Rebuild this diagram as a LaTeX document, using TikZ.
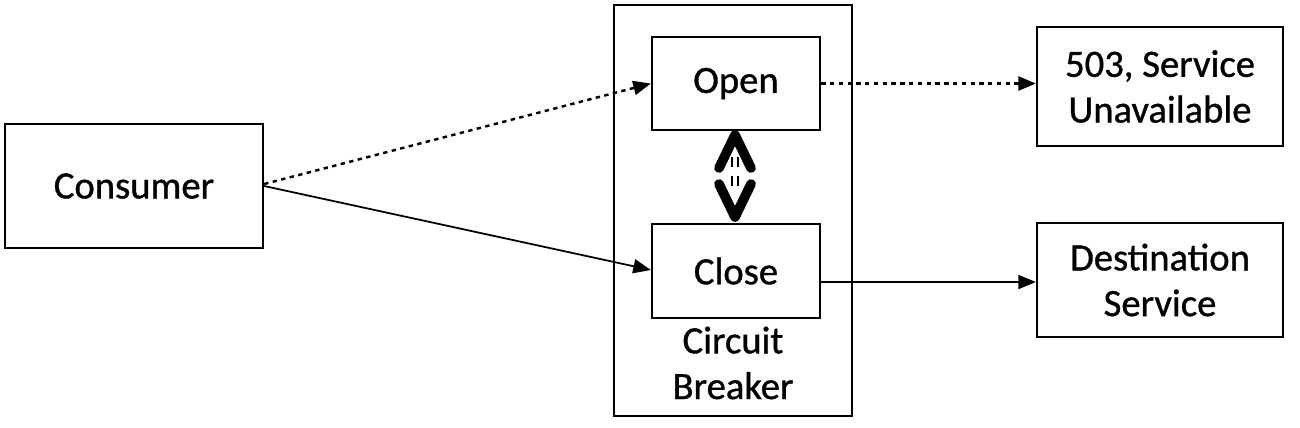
\documentclass[tikz,border=0pt]{standalone}
\usepackage{fontspec}
\setmainfont{Carlito}[RawFeature={embolden=0.9}]
\usetikzlibrary{arrows.meta}
\begin{document}
\begin{tikzpicture}[x=0.02cm,y=-0.02cm,
  box/.style={draw,line width=1.3pt,inner sep=0pt,font=\fontsize{22}{26}\selectfont,align=center},
  conn/.style={line width=1pt,-{Triangle[length=10pt,width=8pt]}},
  dots/.style={conn,line width=1.4pt,dash pattern=on 2.5pt off 2.5pt}]
\useasboundingbox (0,0) rectangle (1300,427);
\node[box,minimum width=258*0.02cm,minimum height=124*0.02cm] (cons) at (134,186) {Consumer};
\node[draw,line width=1.3pt,minimum width=238*0.02cm,minimum height=411*0.02cm] (cb) at (733,210.5) {};
\node[box,minimum width=168*0.02cm,minimum height=93*0.02cm] (open) at (736,83.5) {Open};
\node[box,minimum width=168*0.02cm,minimum height=94*0.02cm] (close) at (736,271) {Close};
\node[font=\fontsize{22}{26}\selectfont,align=center] (cbl) at (733,363) {Circuit\\Breaker};
\node[box,minimum width=246*0.02cm,minimum height=119*0.02cm] (svc) at (1160,86.5) {503, Service\\Unavailable};
\node[box,minimum width=246*0.02cm,minimum height=114*0.02cm] (dest) at (1160,280) {Destination\\Service};
\draw[dots] (cons.east) ++(0,-2) coordinate (c1) -- (open.west);
\draw[conn] (cons.east) -- (open.west |- 0,270);
\draw[dots] (open.east) -- (svc.west |- open.east);
\draw[conn] (close.east |- 0,282) -- (dest.west |- 0,282);
% double arrow between Open and Close
\coordinate (up) at (735,135);
\coordinate (dn) at (735,217);
\draw[line width=5.5pt,line cap=round,line join=round] (719,168) -- (up) -- (751,168);
\draw[line width=5.5pt,line cap=round,line join=round] (719,184) -- (dn) -- (751,184);
\draw[line width=1.2pt] (732,157) -- (732,167) (738,157) -- (738,167)
  (732,176) -- (732,186) (738,176) -- (738,186);
\end{tikzpicture}
\end{document}
